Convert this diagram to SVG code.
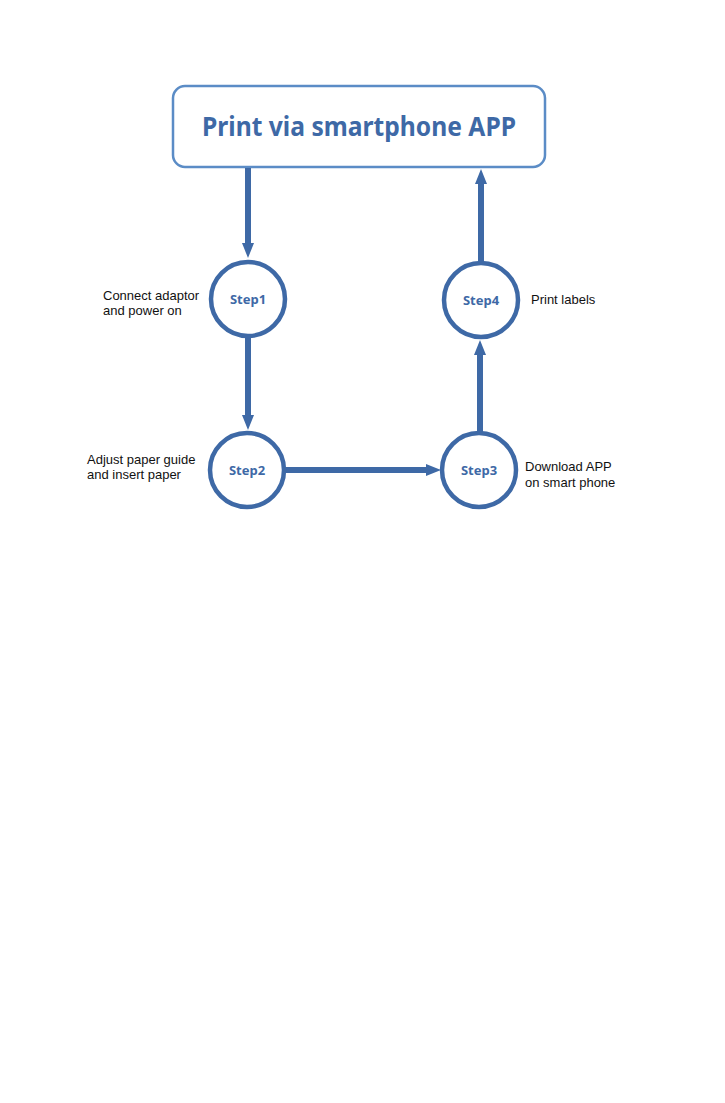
<svg xmlns="http://www.w3.org/2000/svg" width="725" height="1103" viewBox="0 0 725 1103">
<style>
.title{font-family:"Noto Sans","Open Sans",sans-serif;font-weight:bold;font-size:27px;fill:#3e69a6;text-anchor:middle}
.step{font-family:"Noto Sans","Open Sans",sans-serif;font-weight:bold;font-size:13px;fill:#3e69a6;text-anchor:middle}
.lbl{font-family:"Liberation Sans",Arial,sans-serif;font-size:13px;fill:#111}
.circ{fill:#fff;stroke:#3e69a6;stroke-width:4.5}
.line{stroke:#3e69a6;stroke-width:6;fill:none}
.head{fill:#3e69a6}
</style>
<rect width="725" height="1103" fill="#fff"/>
<g id="title">
<rect x="173" y="86" width="372" height="81" rx="12" fill="#fff" stroke="#5b8cc6" stroke-width="2.5"/>
<text class="title" x="359" y="136" textLength="314" lengthAdjust="spacingAndGlyphs">Print via smartphone APP</text>
</g>
<g id="connectors">
<line class="line" x1="248" y1="168" x2="248" y2="244"/>
<polygon class="head" points="242,243 254,243 248,258"/>
<line class="line" x1="248" y1="338" x2="248" y2="416"/>
<polygon class="head" points="242,415 254,415 248,430"/>
<line class="line" x1="286" y1="470" x2="427" y2="470"/>
<polygon class="head" points="426,464 426,476 441,470"/>
<line class="line" x1="480" y1="432" x2="480" y2="354"/>
<polygon class="head" points="474,355 486,355 480,340"/>
<line class="line" x1="481" y1="262" x2="481" y2="183"/>
<polygon class="head" points="475,184 487,184 481,169"/>
</g>
<g id="step1">
<circle class="circ" cx="248" cy="299" r="37"/>
<text class="step" x="248" y="304">Step1</text>
<text class="lbl" x="103" y="300">Connect adaptor</text>
<text class="lbl" x="103" y="315">and power on</text>
</g>
<g id="step2">
<circle class="circ" cx="247" cy="470" r="37"/>
<text class="step" x="247" y="475">Step2</text>
<text class="lbl" x="87" y="464">Adjust paper guide</text>
<text class="lbl" x="87" y="479">and insert paper</text>
</g>
<g id="step3">
<circle class="circ" cx="479" cy="470" r="37"/>
<text class="step" x="479" y="475">Step3</text>
<text class="lbl" x="525" y="471">Download APP</text>
<text class="lbl" x="525" y="487">on smart phone</text>
</g>
<g id="step4">
<circle class="circ" cx="481" cy="300" r="37"/>
<text class="step" x="481" y="305">Step4</text>
<text class="lbl" x="531" y="304">Print labels</text>
</g>
</svg>
